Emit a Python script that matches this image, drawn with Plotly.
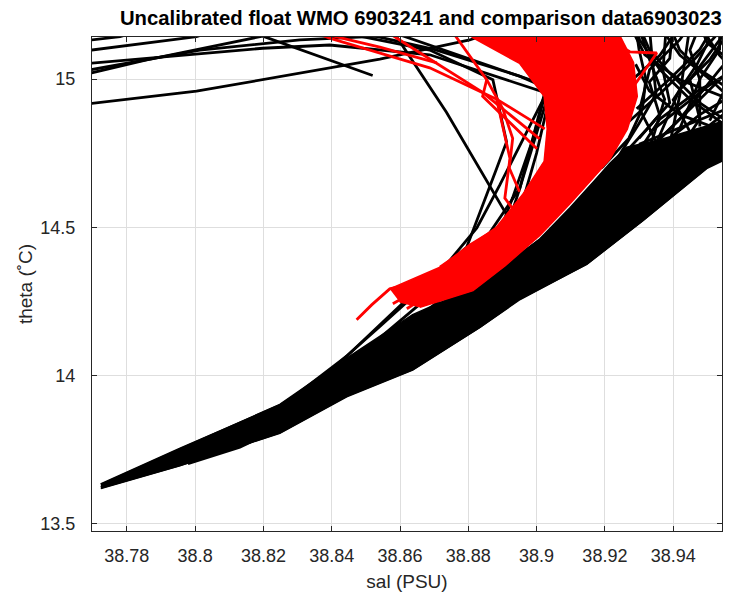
import plotly.graph_objects as go

# ---------------- data ----------------
title_text = "Uncalibrated float WMO 6903241 and comparison data6903023"
x_label = "sal (PSU)"
y_label = "theta (˚C)"

x_tick_vals = [38.78, 38.80, 38.82, 38.84, 38.86, 38.88, 38.90, 38.92, 38.94]
x_tick_text = ["38.78", "38.8", "38.82", "38.84", "38.86", "38.88", "38.9", "38.92", "38.94"]
y_tick_vals = [13.5, 14.0, 14.5, 15.0]
y_tick_text = ["13.5", "14", "14.5", "15"]

# dense core of the comparison profiles (outline of the overlapping band)
cmp_band_sal = [38.7724, 38.7955, 38.8248, 38.8444, 38.8637, 38.8834, 38.8951, 38.9147, 38.9311,
                38.9498, 38.9610, 38.9610, 38.9478, 38.9361, 38.9264, 38.9214, 38.9176, 38.9097,
                38.9009, 38.8892, 38.8804, 38.8637, 38.8444, 38.8248, 38.7955, 38.7724]
cmp_band_theta = [13.618, 13.695, 13.805, 13.928, 14.018, 14.162, 14.258, 14.375, 14.522,
                  14.698, 14.760, 14.880, 14.835, 14.795, 14.770, 14.715, 14.665, 14.565,
                  14.460, 14.358, 14.290, 14.205, 14.058, 13.902, 13.752, 13.632]

# individual comparison profiles (salinity / theta pairs)
cmp_sal = [
    [38.7677, 38.7697, 38.8004, 38.8198, 38.8541, 38.8804, 38.8863],
    [38.7677, 38.7697, 38.7858, 38.8198, 38.8520],
    [38.7677, 38.7697, 38.8198, 38.8394, 38.8687, 38.9024, 38.8951, 38.8834, 38.8717, 38.8444, 38.8248, 38.7955, 38.7750],
    [38.7677, 38.7697, 38.8004, 38.8043],
    [38.7677, 38.7697, 38.7780, 38.7823],
    [38.7677, 38.7697, 38.8014, 38.8307, 38.8541],
    [38.8576, 38.8590, 38.8736, 38.8912, 38.8936, 38.8804, 38.8637, 38.8444, 38.8248, 38.7955, 38.7780],
    [38.8394, 38.8687, 38.8872, 38.8912, 38.8883, 38.8795, 38.8658, 38.8444, 38.8248, 38.7955, 38.7736],
    [38.8892, 38.9030, 38.8892, 38.8825, 38.8717, 38.8541, 38.8248, 38.7984],
    [38.8951, 38.9033, 38.8951, 38.8913, 38.8804, 38.8637, 38.8444, 38.8248, 38.8014, 38.7809],
    [38.8450, 38.8700, 38.8950, 38.9030, 38.8990, 38.8930, 38.8880, 38.8790],
    [38.8560, 38.8800, 38.9000, 38.9040, 38.9000, 38.8950, 38.8870],
    [38.7724, 38.7955, 38.8248, 38.8444, 38.8637, 38.8834, 38.8951, 38.9147, 38.9311, 38.9498, 38.9610],
    [38.7724, 38.7955, 38.8248, 38.8444, 38.8637, 38.8834, 38.9009, 38.9185, 38.9361, 38.9536, 38.9610],
    [38.7750, 38.7955, 38.8248, 38.8444, 38.8637, 38.8834, 38.9009, 38.9185, 38.9361, 38.9536, 38.9610],
    [38.7979, 38.8131, 38.8254],
    [38.8804, 38.8951, 38.9127, 38.9273, 38.9419, 38.9566],
    [38.8834, 38.8980, 38.9141, 38.9244, 38.9361, 38.9478, 38.9595],
    [38.8863, 38.9024, 38.9185, 38.9302, 38.9419, 38.9536, 38.9610],
    [38.8892, 38.9068, 38.9214, 38.9361, 38.9507, 38.9595],
    [38.8980, 38.9127, 38.9273, 38.9419, 38.9566],
    [38.9068, 38.9214, 38.9331, 38.9449, 38.9566],
    [38.9009, 38.9185, 38.9331, 38.9375, 38.9331, 38.9302],
    [38.9068, 38.9244, 38.9419, 38.9478, 38.9449, 38.9478],
    [38.9185, 38.9361, 38.9478, 38.9449, 38.9536, 38.9580],
    [38.9302, 38.9478, 38.9566],
    [38.9566, 38.9449, 38.9361, 38.9302, 38.9288],
    [38.9566, 38.9478, 38.9419, 38.9390],
    [38.9566, 38.9507, 38.9493],
    [38.9258, 38.9361, 38.9478, 38.9566],
    [38.9331, 38.9419, 38.9507, 38.9566],
    [38.9361, 38.9302, 38.9331, 38.9419, 38.9449],
    [38.9566, 38.9419, 38.9317, 38.9273],
    [38.9264, 38.9361, 38.9449, 38.9536],
    [38.9293, 38.9390, 38.9478, 38.9520],
    [38.9282, 38.9361, 38.9420],
    [38.9331, 38.9420, 38.9507, 38.9600],
    [38.9390, 38.9478, 38.9580],
    [38.9300, 38.9449, 38.9600],
    [38.9600, 38.9507, 38.9420, 38.9360],
    [38.9600, 38.9536, 38.9478],
    [38.9580, 38.9478, 38.9390, 38.9330, 38.9300],
    [38.9600, 38.9560],
    [38.9536, 38.9420, 38.9330, 38.9290],
    [38.9390, 38.9420, 38.9449],
    [38.9478, 38.9478, 38.9536, 38.9536],
    [38.9507, 38.9566, 38.9600],
    [38.9300, 38.9360, 38.9330, 38.9390, 38.9400],
    [38.9450, 38.9400, 38.9470, 38.9500, 38.9480],
    [38.9190, 38.9270, 38.9310, 38.9320, 38.9300, 38.9290],
    [38.9230, 38.9300, 38.9350, 38.9340, 38.9330],
    [38.9250, 38.9330, 38.9390, 38.9370, 38.9380],
]
cmp_theta = [
    [14.912, 14.918, 14.959, 14.998, 15.067, 15.132, 15.155],
    [15.012, 15.021, 15.065, 15.145, 15.012],
    [15.048, 15.054, 15.104, 15.115, 15.082, 14.955, 14.632, 14.432, 14.298, 14.032, 13.882, 13.732, 13.642],
    [15.092, 15.098, 15.143, 15.158],
    [15.128, 15.132, 15.143, 15.158],
    [15.025, 15.032, 15.098, 15.132, 15.145],
    [15.172, 15.143, 14.888, 14.543, 14.465, 14.265, 14.132, 13.982, 13.848, 13.715, 13.648],
    [15.165, 15.098, 14.998, 14.788, 14.698, 14.432, 14.298, 14.065, 13.892, 13.745, 13.635],
    [15.165, 14.955, 14.642, 14.498, 14.348, 14.165, 13.865, 13.725],
    [15.165, 14.942, 14.632, 14.498, 14.332, 14.182, 14.015, 13.872, 13.738, 13.658],
    [15.165, 15.100, 15.010, 14.970, 14.800, 14.600, 14.450, 14.340],
    [15.165, 15.070, 14.990, 14.950, 14.750, 14.550, 14.400],
    [13.622, 13.698, 13.808, 13.932, 14.022, 14.165, 14.258, 14.378, 14.525, 14.702, 14.782],
    [13.632, 13.752, 13.898, 14.048, 14.182, 14.282, 14.392, 14.525, 14.665, 14.815, 14.882],
    [13.642, 13.725, 13.848, 13.982, 14.098, 14.225, 14.332, 14.465, 14.598, 14.748, 14.805],
    [13.702, 13.758, 13.825],
    [14.282, 14.392, 14.525, 14.632, 14.765, 14.898],
    [14.315, 14.432, 14.565, 14.665, 14.798, 14.932, 15.065],
    [14.332, 14.465, 14.615, 14.732, 14.865, 15.032, 15.132],
    [14.348, 14.492, 14.598, 14.698, 14.798, 14.865],
    [14.372, 14.465, 14.582, 14.682, 14.782],
    [14.415, 14.532, 14.632, 14.715, 14.798],
    [14.398, 14.565, 14.765, 14.932, 15.065, 15.165],
    [14.432, 14.598, 14.832, 14.998, 15.098, 15.182],
    [14.498, 14.665, 14.865, 14.998, 15.132, 15.182],
    [14.565, 14.732, 14.798],
    [14.832, 14.932, 15.032, 15.132, 15.182],
    [14.965, 15.032, 15.098, 15.182],
    [15.065, 15.115, 15.182],
    [14.682, 14.865, 14.965, 15.015],
    [14.732, 14.965, 15.065, 15.165],
    [14.765, 14.898, 15.032, 15.132, 15.182],
    [14.932, 14.998, 15.082, 15.182],
    [14.850, 14.950, 15.050, 15.160],
    [14.900, 15.000, 15.100, 15.180],
    [15.000, 15.080, 15.180],
    [14.820, 14.900, 14.980, 15.050],
    [14.800, 14.880, 14.950],
    [14.780, 14.850, 14.920],
    [14.900, 15.000, 15.080, 15.180],
    [15.000, 15.080, 15.180],
    [14.840, 14.920, 15.020, 15.100, 15.180],
    [15.100, 15.180],
    [14.830, 14.880, 14.960, 15.050],
    [14.780, 14.950, 15.180],
    [14.840, 15.000, 15.100, 15.180],
    [14.860, 15.000, 15.080],
    [14.800, 14.880, 14.990, 15.070, 15.180],
    [14.820, 14.930, 15.050, 15.120, 15.180],
    [14.700, 14.800, 14.900, 15.000, 15.100, 15.180],
    [14.720, 14.850, 14.950, 15.050, 15.180],
    [14.740, 14.840, 14.920, 15.030, 15.180],
]

# dense core of the uncalibrated float profiles (outline of the overlapping mass)
float_core_sal = [38.8570, 38.8717, 38.8804, 38.8883, 38.8960, 38.9024, 38.9033, 38.9024, 38.8951,
                  38.8863, 38.8813, 38.8790, 38.9250, 38.9244, 38.9282, 38.9293, 38.9264, 38.9214,
                  38.9176, 38.9097, 38.9009, 38.8907, 38.8813, 38.8658, 38.8599]
float_core_theta = [14.292, 14.365, 14.442, 14.498, 14.608, 14.722, 14.832, 14.942, 15.055,
                    15.115, 15.142, 15.182, 15.182, 15.142, 15.055, 14.942, 14.832, 14.732,
                    14.682, 14.582, 14.475, 14.372, 14.288, 14.232, 14.248]

# individual float profiles
float_sal = [
    [38.8717, 38.8883, 38.8960, 38.9024, 38.9033, 38.9024, 38.8951, 38.8813, 38.8790],
    [38.8658, 38.8813, 38.8907, 38.9009, 38.9097, 38.9176, 38.9214, 38.9264, 38.9293, 38.9282, 38.9244, 38.9250],
    [38.9009, 38.8842, 38.8599, 38.8555],
    [38.9024, 38.8883, 38.8687, 38.8541, 38.8394, 38.8336],
    [38.8708, 38.8541, 38.8394, 38.8336],
    [38.9001, 38.8901, 38.8842, 38.8854, 38.8766, 38.8746],
    [38.9185, 38.9258, 38.9352, 38.9273, 38.9214],
    [38.8473, 38.8517, 38.8570, 38.8658, 38.8804],
    [38.8579, 38.8629, 38.8746],
    [38.8620, 38.8673, 38.8790],
    [38.8854, 38.8901, 38.8930, 38.8920, 38.8950],
    [38.8883, 38.8922, 38.8907, 38.8951],
]
float_theta = [
    [14.365, 14.498, 14.608, 14.722, 14.832, 14.942, 15.055, 15.142, 15.182],
    [14.232, 14.288, 14.372, 14.475, 14.582, 14.682, 14.732, 14.832, 14.942, 15.055, 15.142, 15.182],
    [14.798, 14.955, 15.132, 15.165],
    [14.832, 14.932, 15.038, 15.088, 15.138, 15.165],
    [15.055, 15.108, 15.148, 15.172],
    [14.765, 14.875, 14.942, 14.998, 15.142, 15.172],
    [14.765, 14.932, 15.088, 15.092, 15.132],
    [14.188, 14.238, 14.292, 14.315, 14.392],
    [14.242, 14.275, 14.315],
    [14.225, 14.265, 14.305],
    [14.998, 14.900, 14.800, 14.700, 14.620],
    [14.932, 14.732, 14.598, 14.530],
]

x_range = [38.7698, 38.9543]
y_range = [13.475, 15.142]

# ---------------- figure ----------------
FONT = "Liberation Sans, Arial, Helvetica, sans-serif"
TXT = "#262626"
BLACK = "#000000"
RED = "#ff0000"
LW = 2.8

fig = go.Figure()

fig.add_trace(go.Scatter(x=cmp_band_sal, y=cmp_band_theta, mode="lines", fill="toself",
                         fillcolor=BLACK, line=dict(color=BLACK, width=1.5),
                         hoverinfo="skip", showlegend=False))
for s, t in zip(cmp_sal, cmp_theta):
    fig.add_trace(go.Scatter(x=s, y=t, mode="lines", line=dict(color=BLACK, width=LW),
                             hoverinfo="skip", showlegend=False))

fig.add_trace(go.Scatter(x=float_core_sal, y=float_core_theta, mode="lines", fill="toself",
                         fillcolor=RED, line=dict(color=RED, width=1.5),
                         hoverinfo="skip", showlegend=False))
for s, t in zip(float_sal, float_theta):
    fig.add_trace(go.Scatter(x=s, y=t, mode="lines", line=dict(color=RED, width=LW),
                             hoverinfo="skip", showlegend=False))

axis_common = dict(
    showline=True, linecolor=TXT, linewidth=1, mirror="allticks",
    ticks="inside", ticklen=5, tickcolor=TXT, tickwidth=1,
    showgrid=True, gridcolor="#dedede", gridwidth=1, zeroline=False,
    tickfont=dict(family=FONT, size=18, color=TXT),
)

fig.update_layout(
    width=737, height=601,
    margin=dict(l=92, r=15, t=37, b=64),
    paper_bgcolor="white", plot_bgcolor="white",
    font=dict(family=FONT, color=TXT),
    title=dict(text="<b>" + title_text + "</b>", x=0.522, xref="paper", xanchor="center",
               y=0.970, yref="container", yanchor="middle",
               font=dict(family=FONT, size=20.3, color="#000000")),
    xaxis=dict(range=x_range, tickvals=x_tick_vals, ticktext=x_tick_text,
               ticklabelstandoff=8,
               title=dict(text=x_label, font=dict(family=FONT, size=19, color=TXT), standoff=10),
               **axis_common),
    yaxis=dict(range=y_range, tickvals=y_tick_vals, ticktext=y_tick_text,
               ticklabelstandoff=12,
               title=dict(text=y_label, font=dict(family=FONT, size=19, color=TXT), standoff=2),
               **axis_common),
)

fig.write_html("out.html")
